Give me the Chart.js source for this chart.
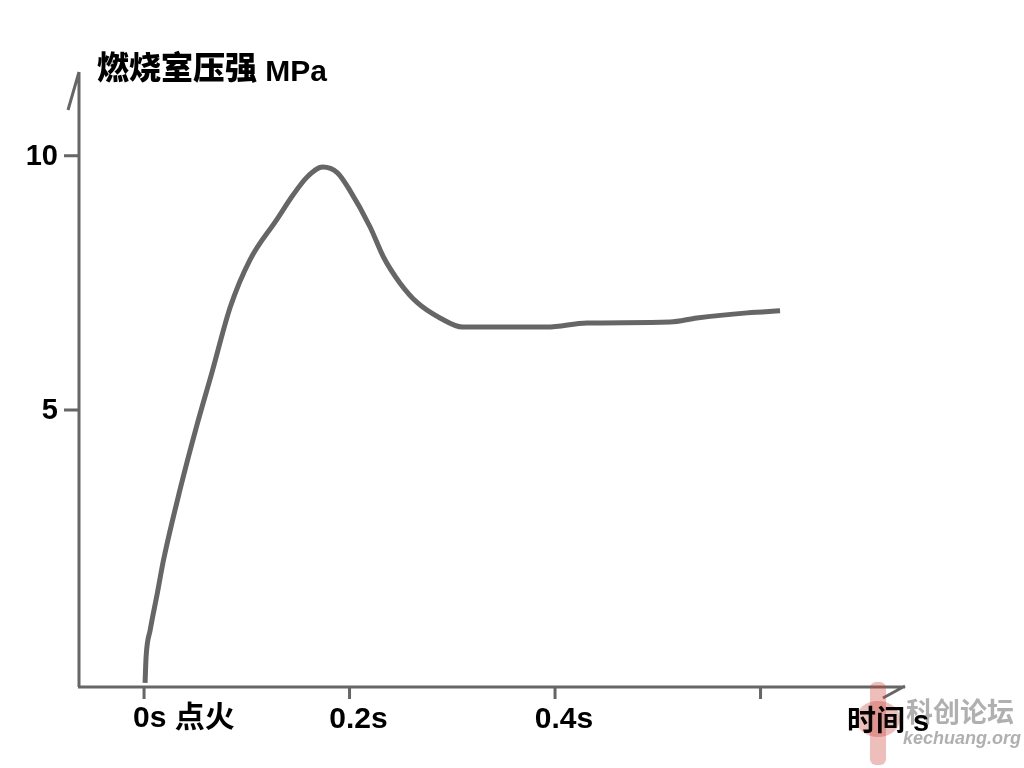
<!DOCTYPE html>
<html>
<head>
<meta charset="utf-8">
<title>燃烧室压强</title>
<script src="https://cdn.jsdelivr.net/npm/chart.js@4"></script>
<style>
    body { margin: 0; background: #fff; }
    #wrap { width: 1024px; height: 768px; }
</style>
</head>
<body>
<div id="wrap"><canvas id="pressureChart" width="1024" height="768"></canvas></div>
<script>
// time in seconds after ignition, pressure in MPa
const times = [0.001, 0.002, 0.006, 0.013, 0.019, 0.035, 0.052, 0.066, 0.084, 0.103, 0.129, 0.145,
    0.159, 0.174, 0.188, 0.2, 0.22, 0.233, 0.249, 0.266, 0.288, 0.31, 0.392, 0.431, 0.512, 0.538,
    0.587, 0.619];
const pressure = [-0.37, 0.14, 0.67, 1.4, 2.05, 3.43, 4.74, 5.73, 7.03, 7.95, 8.74, 9.23,
    9.59, 9.78, 9.67, 9.33, 8.6, 8.01, 7.5, 7.11, 6.81, 6.63, 6.63, 6.71, 6.73, 6.81,
    6.91, 6.95];
const xTicks = [0, 0.2, 0.4, 0.6];
const xTickLabels = ['0s 点火', '0.2s', '0.4s', ''];
const yTicks = [5, 10];
const yTickLabels = ['5', '10'];
const yTitle = '燃烧室压强';
const yUnit = ' MPa';
const xTitle = '时间 s';

document.addEventListener('DOMContentLoaded', function () {
    const axisColor = '#666666';
    const boldFont = (size) => 'bold ' + size + 'px "Liberation Sans", "Noto Sans CJK SC", sans-serif';

    // hand drawn looking axes, ticks and labels, placed with the chart's scales
    const sketchAxes = {
        id: 'sketchAxes',
        afterDraw(chart) {
            const c = chart.ctx;
            const area = chart.chartArea;
            const xs = chart.scales.x;
            const ys = chart.scales.y;
            c.save();
            c.strokeStyle = axisColor;
            c.lineWidth = 3;
            c.lineCap = 'butt';

            // y axis with slash at the top
            c.beginPath();
            c.moveTo(area.left, area.bottom);
            c.lineTo(area.left, area.top + 2);
            c.moveTo(area.left - 11, area.top + 40);
            c.lineTo(area.left, area.top + 2);
            // x axis with slash at the end
            c.moveTo(area.left - 1, area.bottom);
            c.lineTo(area.right, area.bottom);
            c.moveTo(area.right - 22, area.bottom + 11);
            c.lineTo(area.right, area.bottom - 1);
            c.stroke();

            // ticks
            c.beginPath();
            xTicks.forEach(v => {
                const px = xs.getPixelForValue(v);
                c.moveTo(px, area.bottom);
                c.lineTo(px, area.bottom + 12);
            });
            yTicks.forEach(v => {
                const py = ys.getPixelForValue(v);
                c.moveTo(area.left - 15, py);
                c.lineTo(area.left, py);
            });
            c.stroke();

            // faint forum watermark (under the axis title)
            c.fillStyle = 'rgba(205, 70, 60, 0.35)';
            c.beginPath();
            c.roundRect(area.right - 35, area.bottom - 5, 16, 83, 6);
            c.fill();
            c.beginPath();
            c.ellipse(area.right - 27, area.bottom + 32, 22, 18, 0, 0, Math.PI * 2);
            c.fill();
            c.fillStyle = 'rgba(150, 150, 150, 0.75)';
            c.textBaseline = 'middle';
            c.textAlign = 'left';
            c.font = 'bold 27px "Noto Sans CJK SC", sans-serif';
            c.fillText('科创论坛', area.right + 1, area.bottom + 25);
            c.font = 'italic bold 18px "Liberation Sans", sans-serif';
            c.fillText('kechuang.org', area.right - 2, area.bottom + 52);

            c.fillStyle = '#000';
            c.font = boldFont(30);
            xTickLabels.forEach((label, i) => {
                if (!label) return;
                const px = xs.getPixelForValue(xTicks[i]);
                if (i === 0) {
                    c.textAlign = 'left';
                    c.fillText(label, px - 11, area.bottom + 32);
                } else {
                    c.textAlign = 'center';
                    c.fillText(label, px + 9, area.bottom + 33);
                }
            });

            c.font = boldFont(29);
            c.textAlign = 'right';
            yTickLabels.forEach((label, i) => {
                c.fillText(label, area.left - 21, ys.getPixelForValue(yTicks[i]) + 1);
            });

            c.textAlign = 'left';
            c.fillText(xTitle, area.right - 58, area.bottom + 36);

            // y axis title: CJK part and unit share one baseline
            c.textBaseline = 'alphabetic';
            c.font = '900 32px "Noto Sans CJK SC", sans-serif';
            c.fillText(yTitle, area.left + 18, area.top + 9);
            const w = c.measureText(yTitle).width;
            c.font = boldFont(30);
            c.fillText(yUnit, area.left + 18 + w, area.top + 11);
            c.restore();
        }
    };

    const ctx = document.getElementById('pressureChart').getContext('2d');
    const pressureChart = new Chart(ctx, {
        type: 'line',
        data: {
            datasets: [{
                label: yTitle + yUnit,
                data: times.map((t, i) => ({ x: t, y: pressure[i] })),
                borderColor: axisColor,
                borderWidth: 5,
                pointRadius: 0,
                cubicInterpolationMode: 'monotone',
                fill: false
            }]
        },
        options: {
            responsive: false,
            animation: false,
            layout: {
                padding: { left: 79, right: 119, top: 70, bottom: 81 }
            },
            plugins: {
                legend: { display: false },
                tooltip: { enabled: false }
            },
            scales: {
                x: { type: 'linear', min: -0.0633, max: 0.7406, display: false },
                y: { min: -0.453, max: 11.69, display: false }
            }
        },
        plugins: [sketchAxes]
    });
});
</script>
</body>
</html>
